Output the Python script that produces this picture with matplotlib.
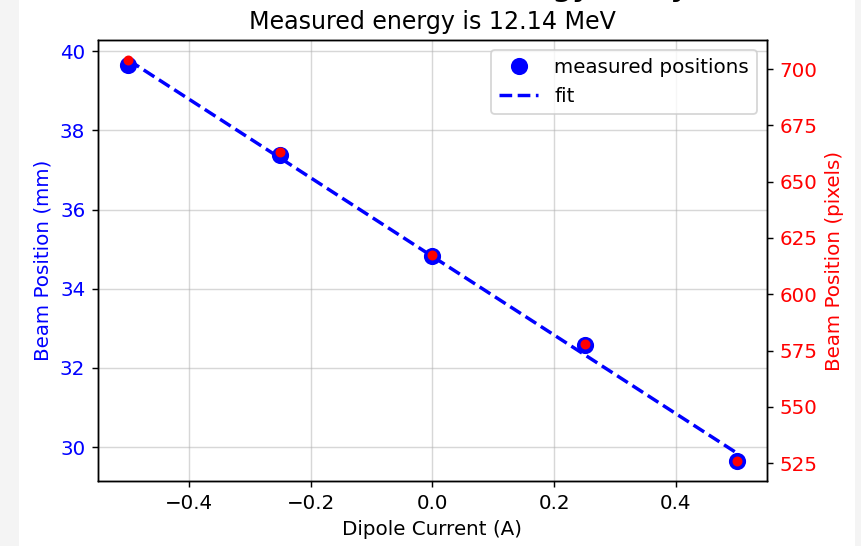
import numpy as np
import matplotlib.pyplot as plt
from matplotlib.patches import Rectangle

# Datos
dipole_current = [-0.5, -0.25, 0.0, 0.25, 0.5]          # A
position_mm = [39.66, 37.37, 34.82, 32.58, 29.65]       # mm
position_px = [704.0, 663.0, 617.5, 578.0, 526.0]       # pixels
energy_mev = 12.14

plt.rcParams["font.size"] = 11

# Ajuste lineal en mm
coef = np.polyfit(dipole_current, position_mm, 1)
fit_mm = np.polyval(coef, dipole_current)

fig = plt.figure(figsize=(861 / 130, 546 / 130), dpi=130, facecolor="#f4f4f4")
fig.patches.append(Rectangle((19 / 861, 0), 836 / 861, 1, transform=fig.transFigure,
                             facecolor="white", edgecolor="none", zorder=-10))

ax1 = fig.add_axes([98 / 861, 1 - 481 / 546, 669 / 861, 441 / 546])
ax1.plot(dipole_current, position_mm, "o", color="blue", markersize=8.5, label="measured positions")
ax1.plot(dipole_current, fit_mm, "--", color="blue", linewidth=1.9, label="fit")
ax1.set_xlabel("Dipole Current (A)")
ax1.set_ylabel("Beam Position (mm)", color="blue")
ax1.tick_params(axis="y", labelcolor="blue")
ax1.grid(True, alpha=0.5)
ax1.legend(loc="upper right")

ax2 = ax1.twinx()
ax2.plot(dipole_current, position_px, "o", color="red", markersize=4.5)
ax2.set_ylabel("Beam Position (pixels)", color="red")
ax2.tick_params(axis="y", labelcolor="red")

ax1.set_title(f"Measured energy is {energy_mev:.2f} MeV", pad=6)
# titulo principal, cortado en la captura original
fig.text(0.5, 1.008, "Beam Scan Results: Energy Study", ha="center", va="baseline",
         fontsize=15, fontweight="bold")

plt.savefig("out.png", dpi=130, facecolor=fig.get_facecolor())
